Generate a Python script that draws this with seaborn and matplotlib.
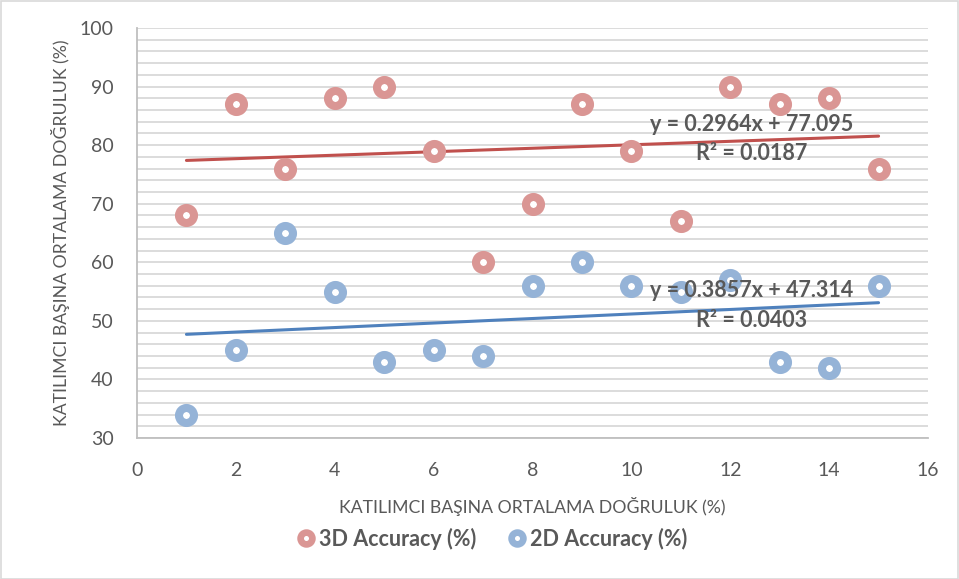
import numpy as np
import pandas as pd
import matplotlib
matplotlib.use("Agg")
import matplotlib.pyplot as plt
from matplotlib.ticker import MultipleLocator
from matplotlib.patches import Rectangle
from matplotlib.lines import Line2D
import seaborn as sns

participants = [1, 2, 3, 4, 5, 6, 7, 8, 9, 10, 11, 12, 13, 14, 15]
acc_3d = [68, 87, 76, 88, 90, 79, 60, 70, 87, 79, 67, 90, 87, 88, 76]
acc_2d = [34, 45, 65, 55, 43, 45, 44, 56, 60, 56, 55, 57, 43, 42, 56]
series_names = ["3D Accuracy (%)", "2D Accuracy (%)"]
eq_3d = ["y = 0.2964x + 77.095", "R² = 0.0187"]
eq_2d = ["y = 0.3857x + 47.314", "R² = 0.0403"]
axis_label = "KATILIMCI BAŞINA ORTALAMA DOĞRULUK (%)"

sns.set_theme(style="white")
plt.rcParams['font.family'] = ['Lato', 'DejaVu Sans']

c3 = "#DA9694"
c2 = "#95B3D7"
t3 = "#C0504D"
t2 = "#4F81BD"
txt = "#595959"

fig = plt.figure(figsize=(9.59, 5.79), dpi=100)
ax = fig.add_axes([137/959, 1-438/579, (928-137)/959, (438-28)/579])

df = pd.DataFrame({"x": participants, "y3": acc_3d, "y2": acc_2d})

# gridlines
ax.yaxis.set_minor_locator(MultipleLocator(2))
ax.grid(which="both", axis="y", color="#D9D9D9", linewidth=1.3)
ax.set_axisbelow(True)

# trendlines
for col, c in (("y3", t3), ("y2", t2)):
    m, b = np.polyfit(df["x"], df[col], 1)
    xs = np.array([min(participants), max(participants)])
    sns.lineplot(x=xs, y=m * xs + b, ax=ax, color=c, linewidth=2.2, zorder=2)

for col, c in (("y3", c3), ("y2", c2)):
    sns.scatterplot(data=df, x="x", y=col, ax=ax, marker="o", s=117,
                    facecolor="white", edgecolor=c, linewidth=5.8, zorder=3)

ax.set_xlim(0, 16)
ax.set_ylim(30, 100)
ax.xaxis.set_major_locator(MultipleLocator(2))
ax.yaxis.set_major_locator(MultipleLocator(10))
for s in ["top", "right"]:
    ax.spines[s].set_visible(False)
for s in ["left", "bottom"]:
    ax.spines[s].set_color("#BFBFBF")
    ax.spines[s].set_linewidth(1.3)
ax.tick_params(axis="both", which="major", length=6, width=1.3, color="#BFBFBF",
               labelsize=14, labelcolor=txt, direction="out")
ax.tick_params(axis="x", pad=11)
ax.tick_params(axis="y", pad=11)
ax.tick_params(axis="both", which="minor", length=0)

ax.set_xlabel(axis_label, fontsize=12.7, color=txt, labelpad=13)
ax.set_ylabel(axis_label, fontsize=12.7, color=txt, labelpad=7)

kw = dict(ha="center", va="center", fontsize=15.5, fontweight="bold", color=txt, zorder=4)
ax.text(12.44, 83.6, eq_3d[0], **kw)
ax.text(12.44, 78.5, eq_3d[1], **kw)
ax.text(12.44, 55.1, eq_2d[0], **kw)
ax.text(12.44, 50.1, eq_2d[1], **kw)

handles = [Line2D([], [], marker="o", linestyle="none", markersize=8.5,
                  markerfacecolor="white", markeredgecolor=c, markeredgewidth=4.8)
           for c in (c3, c2)]
leg = fig.legend(handles, series_names, loc="center", bbox_to_anchor=(490/959, 1-539/579),
                 ncol=2, frameon=False, handletextpad=0.0, columnspacing=1.3,
                 prop={"size": 15.5, "weight": "bold"}, handlelength=1.2)
for t in leg.get_texts():
    t.set_color(txt)

fig.patches.append(Rectangle((0.5/959, 0.5/579), 1-1.5/959, 1-1.5/579, transform=fig.transFigure,
                             fill=False, edgecolor="#D9D9D9", linewidth=1.2))

fig.savefig("out.png", dpi=100)
